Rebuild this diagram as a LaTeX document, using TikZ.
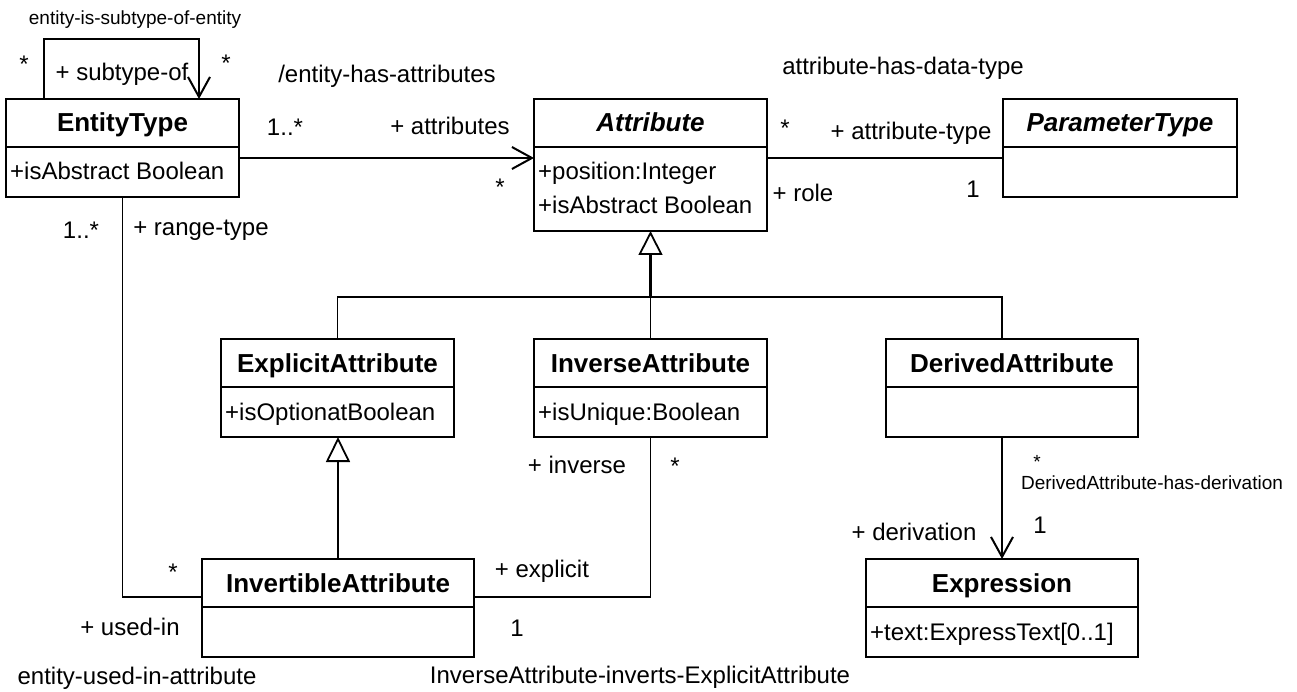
\documentclass[tikz,border=0pt]{standalone}
\usepackage{fontspec}
\setmainfont{Liberation Sans}
\usetikzlibrary{positioning,arrows.meta}
\tikzset{
  classbox/.style = {draw, line width=2pt, rectangle, anchor=north west,
    inner sep=0pt, outer sep=0pt},
  divider/.style = {line width=2pt},
  classname/.style = {font=\fontsize{26}{30}\selectfont\bfseries, anchor=base,
    inner sep=0pt},
  classattr/.style = {font=\fontsize{24}{28}\selectfont, anchor=base west,
    inner sep=0pt},
  role/.style = {font=\fontsize{24}{28}\selectfont, inner sep=0pt},
  assocname/.style = {font=\fontsize{19}{22}\selectfont, inner sep=0pt},
  assoc/.style = {draw, line width=1.8pt},
  assocbold/.style = {draw, line width=2.8pt}
}
% name, north west corner, width, height, title, attribute
\newcommand{\umlclass}[6]{%
  \node[classbox, minimum width=#3, minimum height=#4] (#1) at #2 {};
  \node[classname] (#1-name) at ([yshift=-33pt]#1.north) {#5};
  \draw[divider] ([yshift=-48pt]#1.north west) -- ([yshift=-48pt]#1.north east);
  \node[classattr] (#1-attr) at ([xshift=4pt,yshift=-81pt]#1.north west) {#6};
}

\begin{document}
\begin{tikzpicture}[x=1pt,y=-1pt,
  >={Straight Barb[length=20pt,width=22pt,line width=2pt]}]
\useasboundingbox (0,0) rectangle (1297,692);

% classes
\umlclass{ent}{(6,99)}{233pt}{98pt}{EntityType}{+isAbstract Boolean}
\umlclass{att}{(534,99)}{233pt}{132pt}{\itshape Attribute}{+position:Integer}
\node[classattr] (att-attr2) at ([yshift=-34pt]att-attr.base west) {+isAbstract Boolean};
\umlclass{par}{(1003,99)}{234pt}{98pt}{\itshape ParameterType}{}
\umlclass{exp}{(221,339)}{233pt}{98pt}{ExplicitAttribute}{+isOptionatBoolean}
\umlclass{inv}{(534,339)}{233pt}{98pt}{InverseAttribute}{+isUnique:Boolean}
\umlclass{der}{(886,339)}{252pt}{98pt}{DerivedAttribute}{}
\umlclass{ivt}{(202,559)}{272pt}{98pt}{InvertibleAttribute}{}
\umlclass{xpr}{(866,559)}{272pt}{98pt}{Expression}{+text:ExpressText[0..1]}

% generalizations
\coordinate (gen) at ([yshift=-66pt]att.south);
\draw[assocbold, -{Triangle[open,length=24pt,width=24pt,line width=1.8pt]}] (gen) -- (att.south);
\draw[assoc] (exp.north) |- (gen) -| ([xshift=-10pt]der.north);
\draw[assoc] (inv.north) -- (gen);
\draw[assoc, -{Triangle[open,length=25pt,width=24pt]}] (ivt.north) -- (ivt.north |- exp.south);

% associations
\draw[assoc, ->] ([xshift=38pt]ent.north west) -- ++(0,-60) -| ([xshift=-40pt]ent.north east);
\draw[assocbold, ->] ([yshift=-10pt]ent.east) -- ([yshift=-10pt]ent.east -| att.west);
\draw[assocbold] ([yshift=-10pt]par.west -| att.east) -- ([yshift=-10pt]par.west);
\draw[assoc] (ent.south) |- ([yshift=11pt]ivt.west);
\draw[assoc] (inv.south) |- ([yshift=11pt]ivt.east);
\draw[assocbold, ->] ([xshift=-10pt]der.south) -- (xpr.north);

% association names, roles and multiplicities
\node[assocname] (lsub) at (135,20) {entity-is-subtype-of-entity};
\node[role] (msub1) at (24,64) {*};
\node[role] (msub2) at (226,63) {*};
\node[role] (rsub) at (122,74) {+ subtype-of};
\node[role] (lhas) at (387,76) {/entity-has-attributes};
\node[role] (mhas1) at (285,127) {1..*};
\node[role] (rhas) at (450,126) {+ attributes};
\node[role] (mhas2) at (500,187) {*};
\node[role] (ldat) at (903,68) {attribute-has-data-type};
\node[role] (mdat1) at (785,128) {*};
\node[role] (rdat1) at (911,133) {+ attribute-type};
\node[role] (rdat2) at (803,193) {+ role};
\node[role] (mdat2) at (973,189) {1};
\node[role] (mrng1) at (81,230) {1..*};
\node[role] (rrng1) at (201,230) {+ range-type};
\node[role] (mrng2) at (173,572) {*};
\node[role] (rrng2) at (130,627) {+ used-in};
\node[role] (lrng) at (137,678) {entity-used-in-attribute};
\node[role] (rinv1) at (577,465) {+ inverse};
\node[role] (minv1) at (675,466) {*};
\node[role] (rinv2) at (542,571) {+ explicit};
\node[role] (minv2) at (517,628) {1};
\node[role] (linv) at (640,677) {InverseAttribute-inverts-ExplicitAttribute};
\node[assocname] (mder1) at (1037,462) {*};
\node[assocname] (lder) at (1152,483) {DerivedAttribute-has-derivation};
\node[role] (mder2) at (1040,525) {1};
\node[role] (rder) at (914,532) {+ derivation};
\end{tikzpicture}
\end{document}
